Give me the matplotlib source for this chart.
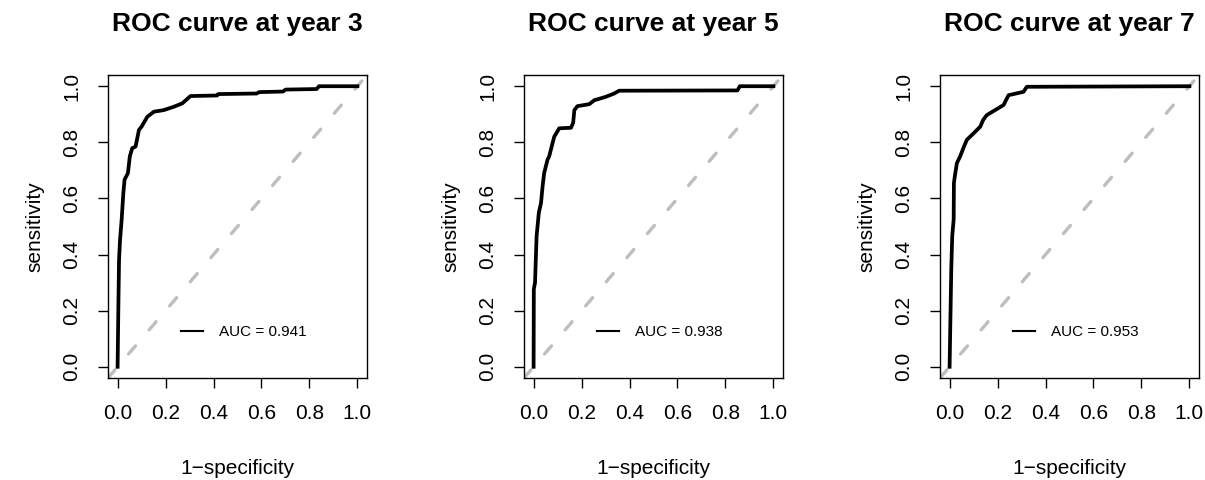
import matplotlib
matplotlib.use('Agg')
import matplotlib.pyplot as plt

plt.rcParams['font.family'] = ['Liberation Sans', 'DejaVu Sans']

###############################################################################
#   DATA
###############################################################################
years = [3, 5, 7]
auc_values = [0.941, 0.938, 0.953]

fpr_y3 = [0, 0.003, 0.006, 0.01, 0.017, 0.024, 0.029, 0.043, 0.051, 0.061,
          0.075, 0.089, 0.10, 0.124, 0.151, 0.193, 0.235, 0.27, 0.304, 0.415,
          0.42, 0.58, 0.59, 0.69, 0.70, 0.83, 0.84, 1.0]
tpr_y3 = [0, 0.2, 0.38, 0.45, 0.525, 0.62, 0.667, 0.69, 0.75, 0.779,
          0.785, 0.844, 0.856, 0.891, 0.909, 0.915, 0.927, 0.939, 0.965, 0.967,
          0.972, 0.974, 0.979, 0.981, 0.988, 0.99, 1.0, 1.0]

fpr_y5 = [0, 0.001, 0.006, 0.0125, 0.022, 0.031, 0.0375, 0.044, 0.058, 0.065,
          0.079, 0.086, 0.107, 0.156, 0.165, 0.17, 0.183, 0.232, 0.253, 0.30,
          0.336, 0.357, 0.85, 0.86, 1.0]
tpr_y5 = [0, 0.277, 0.3, 0.466, 0.55, 0.584, 0.643, 0.69, 0.738, 0.75,
          0.797, 0.82, 0.85, 0.852, 0.87, 0.915, 0.929, 0.936, 0.95, 0.962,
          0.974, 0.984, 0.985, 1.0, 1.0]

fpr_y7 = [0, 0.007, 0.011, 0.017, 0.018, 0.022, 0.0305, 0.044, 0.06, 0.072,
          0.1, 0.128, 0.14, 0.155, 0.19, 0.225, 0.235, 0.246, 0.308, 0.322, 1.0]
tpr_y7 = [0, 0.348, 0.466, 0.525, 0.655, 0.68, 0.726, 0.75, 0.785, 0.809,
          0.832, 0.856, 0.88, 0.897, 0.915, 0.933, 0.95, 0.968, 0.98, 0.998, 1.0]

fprs = [fpr_y3, fpr_y5, fpr_y7]
tprs = [tpr_y3, tpr_y5, tpr_y7]
ticks = [0.0, 0.2, 0.4, 0.6, 0.8, 1.0]

###############################################################################
#   PLOT
###############################################################################
W, H = 1205, 480
fig = plt.figure(figsize=(W / 100, H / 100), dpi=100)

box_left = [108, 524, 940]   # pixel position of each plot box
box_w, box_top, box_bot = 259, 75, 378

for i in range(3):
    ax = fig.add_axes([box_left[i] / W, (H - box_bot) / H,
                       box_w / W, (box_bot - box_top) / H])
    # diagonal reference line
    ax.axline((0, 0), (1, 1), color='#BEBEBE', lw=2.4,
              linestyle=(0, (3.2, 6.3)), dash_capstyle='round', zorder=1)
    ax.plot(fprs[i], tprs[i], color='black', lw=2.7,
            solid_joinstyle='round', zorder=2,
            label=f'AUC = {auc_values[i]:.3f}')

    ax.set_xlim(-0.04, 1.04)
    ax.set_ylim(-0.04, 1.04)
    ax.set_xticks(ticks)
    ax.set_yticks(ticks)
    ax.set_xticklabels([f'{t:.1f}' for t in ticks])
    ax.set_yticklabels([f'{t:.1f}' for t in ticks])
    ax.tick_params(length=7, width=1, pad=12, labelsize=15, color='black')
    for lab in ax.get_yticklabels():
        lab.set_rotation(90)
        lab.set_va('center')
    for s in ax.spines.values():
        s.set_linewidth(1.0)

    ax.set_xlabel('1\u2212specificity', fontsize=15)
    ax.set_ylabel('sensitivity', fontsize=15)
    ax.xaxis.set_label_coords(0.5, -(468 - box_bot) / (box_bot - box_top))
    ax.xaxis.label.set_va('center')
    ax.yaxis.set_label_coords(-(box_left[i] - (box_left[i] - 73)) / box_w, 0.5)
    ax.yaxis.label.set_va('center')

    ax.set_title(f'ROC curve at year {years[i]}', fontsize=19, fontweight='bold',
                 y=1 + (box_top - 24) / (box_bot - box_top), pad=0, va='center')

    leg = ax.legend(loc='center left', bbox_to_anchor=(0.28, 0.151),
                    frameon=False, fontsize=11, handlelength=1.5,
                    handletextpad=1.0, borderpad=0, borderaxespad=0)
    leg.get_lines()[0].set_linewidth(1.5)

plt.savefig('out.png', dpi=100)
